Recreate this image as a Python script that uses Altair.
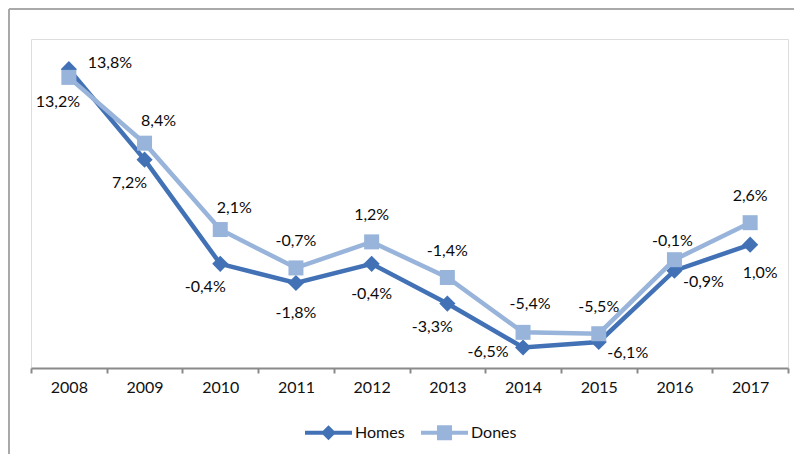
import altair as alt
import pandas as pd

# ---- data ----
years = ["2008", "2009", "2010", "2011", "2012", "2013", "2014", "2015", "2016", "2017"]
homes = [13.8, 7.2, -0.4, -1.8, -0.4, -3.3, -6.5, -6.1, -0.9, 1.0]
dones = [13.2, 8.4, 2.1, -0.7, 1.2, -1.4, -5.4, -5.5, -0.1, 2.6]
series_names = ["Homes", "Dones"]

# label placement keys (styling, separate from data)
homes_label_pos = ["ur", "bl", "bl", "b", "b", "bl", "l", "rb", "rb", "br"]
dones_label_pos = ["bl2", "ar", "ar", "a", "a", "a", "ar2", "a", "a2", "a"]
offsets = {
    "ur": (41, -6), "bl": (-15, 23), "b": (0, 30), "l": (-35, 5),
    "rb": (29, 11), "br": (10, 28), "bl2": (-11, 25), "ar": (14, -22),
    "a": (0, -27), "ar2": (7, -28), "a2": (-2, -19),
}

DARK = "#4272b5"
LIGHT = "#98b4da"
FONT = "Lato"

rows = []
for s, vals, poss in (("Homes", homes, homes_label_pos), ("Dones", dones, dones_label_pos)):
    for y, v, p in zip(years, vals, poss):
        rows.append({"year": y, "series": s, "value": v,
                     "label": f"{v:.1f}".replace(".", ",") + "%", "pos": p})
df = pd.DataFrame(rows)

x_enc = alt.X("year:N", bandPosition=0.5,
              scale=alt.Scale(type="band", paddingInner=0, paddingOuter=0, domain=years),
              axis=alt.Axis(title=None, labelAngle=0, tickBand="extent", tickSize=5,
                            domainColor="#8a8a8a", domainWidth=2, tickColor="#8a8a8a",
                            tickWidth=2, labelFont=FONT, labelFontSize=16,
                            labelColor="#111111", labelPadding=6, grid=False))
y_enc = alt.Y("value:Q", scale=alt.Scale(domain=[-8, 16], nice=False, zero=False), axis=None)

base = alt.Chart(df)
layers = []
for s, col, shape, size in (("Homes", DARK, "diamond", 260), ("Dones", LIGHT, "square", 225)):
    sub = base.transform_filter(alt.datum.series == s)
    layers.append(sub.mark_line(color=col, strokeWidth=4.5).encode(x=x_enc, y=y_enc))
    layers.append(sub.mark_point(color=col, filled=True, opacity=1, shape=shape, size=size,
                                 strokeWidth=0).encode(x=x_enc, y=y_enc))

for p, (dx, dy) in offsets.items():
    layers.append(
        base.transform_filter(alt.datum.pos == p)
        .mark_text(font=FONT, fontSize=16, color="#0a0a0a", dx=dx, dy=dy,
                   align="center", baseline="middle")
        .encode(x=x_enc, y=y_enc, text="label:N")
    )

# legend provider (no marks drawn)
homes_sym = "M-1,-0.09L1,-0.09L1,0.09L-1,0.09Z M0,-0.32L0.32,0L0,0.32L-0.32,0Z"
dones_sym = "M-1,-0.09L1,-0.09L1,0.09L-1,0.09Z M-0.32,-0.32L0.32,-0.32L0.32,0.32L-0.32,0.32Z"
legend = alt.Legend(title=None, orient="none", legendX=274, legendY=370, direction="horizontal",
                    symbolSize=2209, symbolStrokeWidth=0, symbolOpacity=1,
                    labelFont=FONT, labelFontSize=16, labelColor="#111111",
                    labelOffset=3, columnPadding=16, padding=0)
layers.append(
    base.transform_filter("false").mark_point(filled=True, size=2209, opacity=1).encode(
        color=alt.Color("series:N", scale=alt.Scale(domain=series_names, range=[DARK, LIGHT]),
                        legend=legend),
        shape=alt.Shape("series:N", scale=alt.Scale(domain=series_names, range=[homes_sym, dones_sym]),
                        legend=legend),
    )
)

# outer frame (top and left edges)
frame = alt.Data(values=[{}])
layers.append(alt.Chart(frame).mark_rule(color="#a9a9a9", strokeWidth=2).encode(
    x=alt.value(-22), y=alt.value(-30), y2=alt.value(420)))
layers.append(alt.Chart(frame).mark_rule(color="#a9a9a9", strokeWidth=2).encode(
    x=alt.value(-22), x2=alt.value(770), y=alt.value(-30)))

chart = alt.layer(*layers).properties(
    width=757, height=329,
    padding={"left": 23, "top": 31, "right": 6, "bottom": 86},
    autosize=alt.AutoSizeParams(type="none"),
).configure_view(stroke=None).configure(background="white")

chart.save("out.html", embed_options={"renderer": "svg", "actions": False})
